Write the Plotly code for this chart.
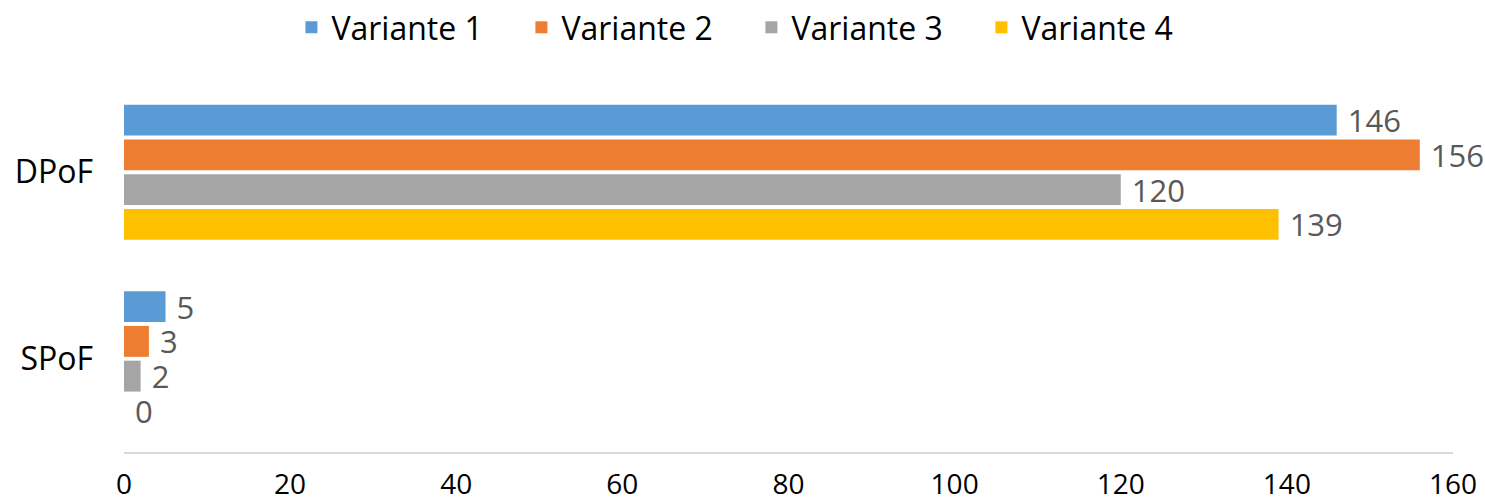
import plotly.graph_objects as go

categories = ["DPoF", "SPoF"]
series_names = ["Variante 1", "Variante 2", "Variante 3", "Variante 4"]
v1 = [146, 5]
v2 = [156, 3]
v3 = [120, 2]
v4 = [139, 0]
colors = ["#5B9BD5", "#ED7D31", "#A5A5A5", "#FFC000"]
tick_vals = [0, 20, 40, 60, 80, 100, 120, 140, 160]

FONT = "Open Sans"
fig = go.Figure()
for name, vals, col in zip(series_names, [v1, v2, v3, v4], colors):
    fig.add_trace(go.Bar(
        y=categories, x=vals, name=name, orientation="h",
        marker=dict(color=col, line=dict(width=0)),
        text=vals, texttemplate="\u00a0%{x}", textposition="outside",
        constraintext="none",
        textfont=dict(family=FONT, size=31, color="#595959"),
        cliponaxis=False,
    ))

fig.update_layout(
    width=1485, height=502,
    margin=dict(l=124, r=32, t=79, b=50, autoexpand=False),
    paper_bgcolor="white", plot_bgcolor="white",
    barmode="group", bargap=0.255, bargroupgap=0.11,
    font=dict(family=FONT, color="black"),
    legend=dict(orientation="h", xref="container", x=0.506, xanchor="center",
                yref="container", y=1.0, yanchor="top",
                font=dict(family=FONT, size=32, color="black"),
                entrywidth=185, traceorder="normal"),
    xaxis=dict(range=[0, 160], tickvals=tick_vals, showgrid=False, zeroline=False,
               showline=True, linecolor="#D9D9D9", linewidth=2, automargin=False,
               ticks="", ticklabelstandoff=6,
               tickfont=dict(family=FONT, size=28, color="black")),
    yaxis=dict(autorange="reversed", showgrid=False, zeroline=False, showline=False,
               ticks="", ticklabelstandoff=30, automargin=False,
               tickfont=dict(family=FONT, size=32, color="black")),
)
fig.write_html("out.html")
